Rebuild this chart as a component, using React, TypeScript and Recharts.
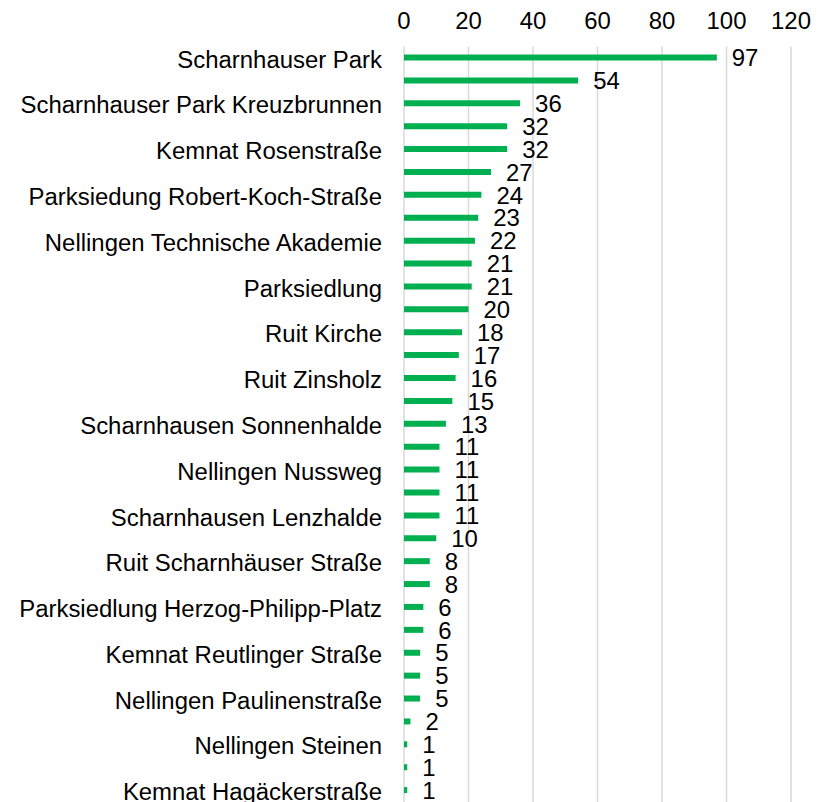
import React from 'react';
import { BarChart, Bar, XAxis, YAxis, CartesianGrid, LabelList } from 'recharts';

// every second stop name is not printed on the axis in the original
const stops = [
  'Scharnhauser Park', 'Haltestelle 2',
  'Scharnhauser Park Kreuzbrunnen', 'Haltestelle 4',
  'Kemnat Rosenstraße', 'Haltestelle 6',
  'Parksiedung Robert-Koch-Straße', 'Haltestelle 8',
  'Nellingen Technische Akademie', 'Haltestelle 10',
  'Parksiedlung', 'Haltestelle 12',
  'Ruit Kirche', 'Haltestelle 14',
  'Ruit Zinsholz', 'Haltestelle 16',
  'Scharnhausen Sonnenhalde', 'Haltestelle 18',
  'Nellingen Nussweg', 'Haltestelle 20',
  'Scharnhausen Lenzhalde', 'Haltestelle 22',
  'Ruit Scharnhäuser Straße', 'Haltestelle 24',
  'Parksiedlung Herzog-Philipp-Platz', 'Haltestelle 26',
  'Kemnat Reutlinger Straße', 'Haltestelle 28',
  'Nellingen Paulinenstraße', 'Haltestelle 30',
  'Nellingen Steinen', 'Haltestelle 32',
  'Kemnat Hagäckerstraße',
];

const counts = [
  97, 54, 36, 32, 32, 27, 24, 23, 22, 21, 21, 20, 18, 17, 16, 15, 13,
  11, 11, 11, 11, 10, 8, 8, 6, 6, 5, 5, 5, 2, 1, 1, 1,
];

const xTicks = [0, 20, 40, 60, 80, 100, 120];

const data = stops.map((name, i) => ({ name, value: counts[i] }));

const FONT = '"Liberation Sans", Arial, sans-serif';
// the original text is a touch wider than Arial at this height
const STRETCH = 1.04;

const Txt = ({ x, y, anchor, children }: any) => (
  <text
    transform={`translate(${x},${y}) scale(${STRETCH},1)`}
    textAnchor={anchor}
    fontSize={23}
    fontFamily={FONT}
    fill="#000"
  >
    {children}
  </text>
);

const TopTick = ({ x, payload }: any) => (
  <Txt x={x} y={29} anchor="middle">{payload.value}</Txt>
);

const StopTick = ({ y, payload }: any) => (
  <Txt x={382} y={y + 9.7} anchor="end">{payload.value}</Txt>
);

const ValueLabel = ({ x, y, width, height, value }: any) => (
  <Txt x={x + width + 15} y={y + height / 2 + 8.7} anchor="start">{value}</Txt>
);

export default function App() {
  return (
    <div style={{ position: 'absolute', left: 0, top: 0, background: '#fff' }}>
      <BarChart
        width={825}
        height={802}
        data={data}
        layout="vertical"
        margin={{ top: 0, right: 34, bottom: 0, left: 0 }}
        barCategoryGap={0}
      >
        <CartesianGrid horizontal={false} stroke="#d9d9d9" strokeWidth={1.5} />
        <XAxis
          type="number"
          orientation="top"
          domain={[0, 120]}
          ticks={xTicks}
          height={46.5}
          axisLine={false}
          tickLine={false}
          tick={<TopTick />}
        />
        <YAxis
          type="category"
          dataKey="name"
          width={404}
          interval={1}
          axisLine={false}
          tickLine={false}
          tick={<StopTick />}
        />
        <Bar dataKey="value" fill="#00b050" barSize={6} isAnimationActive={false}>
          <LabelList dataKey="value" content={<ValueLabel />} />
        </Bar>
      </BarChart>
    </div>
  );
}
